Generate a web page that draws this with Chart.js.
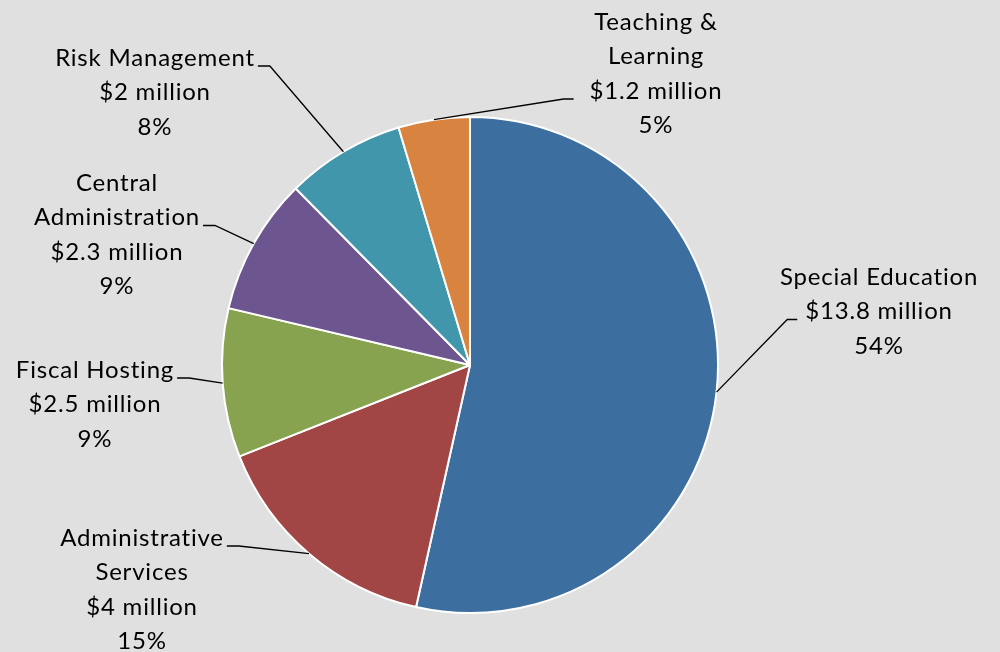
<!DOCTYPE html>
<html lang="en">
<head>
  <meta charset="UTF-8">
  <title>Budget by program</title>
  <script src="https://cdn.jsdelivr.net/npm/chart.js"></script>
  <style>
    html, body {
      margin: 0;
      padding: 0;
      background: #e0e0e0;
    }
    #wrap {
      width: 1000px;
      height: 652px;
    }
  </style>
</head>
<body>
  <div id="wrap"><canvas id="pieChart" width="1000" height="652"></canvas></div>

  <script>
    // data (millions of dollars)
    const categories = ['Special Education', 'Administrative Services', 'Fiscal Hosting',
                        'Central Administration', 'Risk Management', 'Teaching & Learning'];
    const amounts = [13.8, 4, 2.5, 2.3, 2, 1.2];
    const amountLabels = ['$13.8 million', '$4 million', '$2.5 million',
                          '$2.3 million', '$2 million', '$1.2 million'];
    const percentLabels = ['54%', '15%', '9%', '9%', '8%', '5%'];
    // how the category name wraps in the label
    const nameLines = [
      ['Special Education'],
      ['Administrative', 'Services'],
      ['Fiscal Hosting'],
      ['Central', 'Administration'],
      ['Risk Management'],
      ['Teaching &', 'Learning']
    ];
    const colors = ['#3c6e9f', '#a14545', '#87a34f', '#6d5690', '#4196ab', '#d8833f'];

    // label layout: block centre relative to pie centre, which line the leader meets, gap to text
    const labelLayout = [
      { dx: 409, dy: -88, line: 1, gap: 8 },
      { dx: -328, dy: 173, line: 0, gap: 3 },
      { dx: -375, dy: 5, line: 0, gap: 3 },
      { dx: -353, dy: -182, line: 1, gap: 3 },
      { dx: -315, dy: -307, line: 0, gap: 3 },
      { dx: 186, dy: -343, line: 2, gap: 16 }
    ];
    const lineHeight = 34.5;
    const labelFont = '24px Lato, "Open Sans", sans-serif';

    const leaderLabels = {
      id: 'leaderLabels',
      afterDraw(chart) {
        const ctx = chart.ctx;
        const arcs = chart.getDatasetMeta(0).data;
        ctx.save();
        ctx.font = labelFont;
        ctx.letterSpacing = '0.8px';
        ctx.fillStyle = '#000';
        ctx.strokeStyle = '#000';
        ctx.lineWidth = 1.3;
        ctx.textAlign = 'center';
        ctx.textBaseline = 'middle';
        arcs.forEach((arc, i) => {
          const { x, y, startAngle, endAngle, outerRadius } = arc.getProps(['x', 'y', 'startAngle', 'endAngle', 'outerRadius'], true);
          const mid = (startAngle + endAngle) / 2;
          const ax = x + Math.cos(mid) * outerRadius;
          const ay = y + Math.sin(mid) * outerRadius;
          const lay = labelLayout[i];
          const lines = nameLines[i].concat([amountLabels[i], percentLabels[i]]);
          const cx = x + lay.dx;
          const top = y + lay.dy;
          lines.forEach((t, k) => ctx.fillText(t, cx, top + k * lineHeight));

          // leader line: arc midpoint -> elbow -> beside the text line
          const w = ctx.measureText(lines[lay.line]).width;
          const ly = top + lay.line * lineHeight + 8;
          const left = lay.dx < 0;
          const tipX = left ? cx + w / 2 + lay.gap : cx - w / 2 - lay.gap;
          const elbowX = left ? tipX + 12 : tipX - 10;
          ctx.beginPath();
          ctx.moveTo(ax, ay);
          ctx.lineTo(elbowX, ly);
          ctx.lineTo(tipX, ly);
          ctx.stroke();
        });
        ctx.restore();
      }
    };

    const ctx = document.getElementById('pieChart').getContext('2d');
    new Chart(ctx, {
      type: 'pie',
      data: {
        labels: categories,
        datasets: [{
          data: amounts,
          backgroundColor: colors,
          borderColor: '#ffffff',
          borderWidth: 2,
          hoverOffset: 0
        }]
      },
      options: {
        responsive: false,
        animation: false,
        radius: 248,
        layout: {
          padding: { top: 117, bottom: 39, left: 222, right: 282 }
        },
        plugins: {
          legend: { display: false },
          tooltip: { enabled: false }
        }
      },
      plugins: [leaderLabels]
    });
  </script>
</body>
</html>
